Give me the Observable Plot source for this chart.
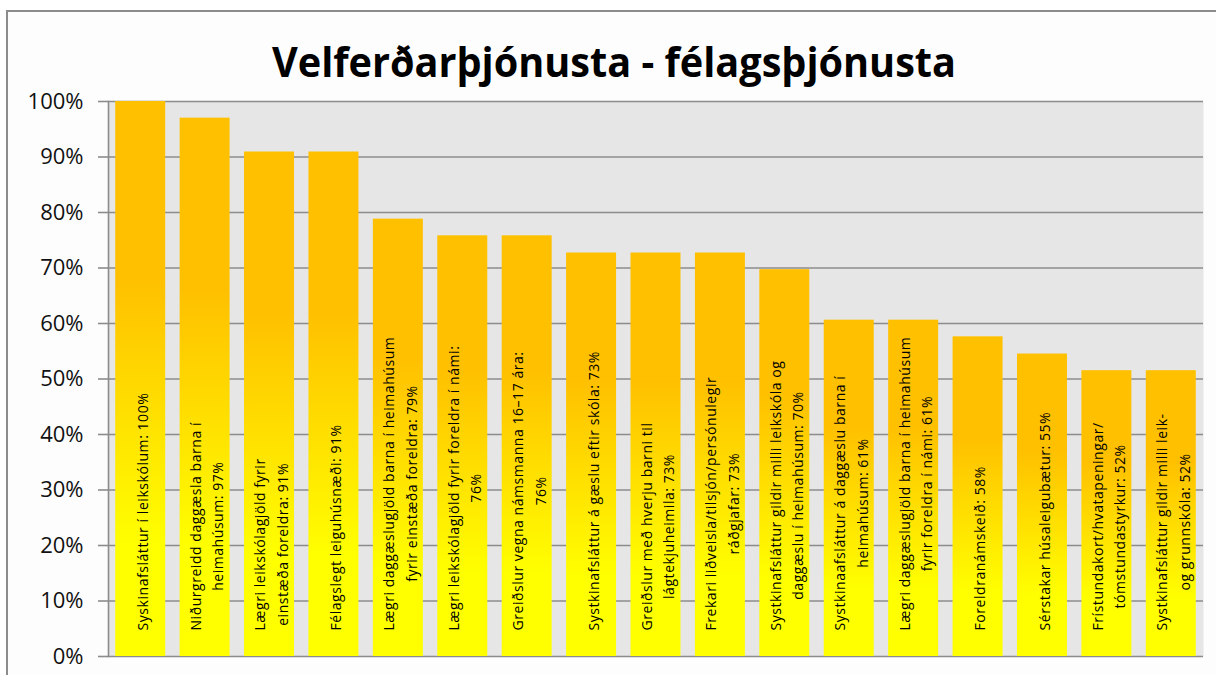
<!DOCTYPE html>
<html><head><meta charset="utf-8">
<script src="https://cdn.jsdelivr.net/npm/d3@7"></script>
<script src="https://cdn.jsdelivr.net/npm/@observablehq/plot@0.6"></script>
<style>
html,body{margin:0;padding:0;background:#fff;}
#wrap{position:relative;width:1216px;height:675px;overflow:hidden;}
#frame{position:absolute;left:6px;top:10px;width:1240px;height:720px;border:2px solid #8c8c8c;background:#fdfdfd;box-sizing:border-box;}
#chart{position:absolute;left:0;top:0;}
</style></head><body>
<div id="wrap"><div id="frame"></div><div id="chart"></div></div>
<script>
const title = "Velferðarþjónusta - félagsþjónusta";
const categories = [
  "Syskinafsláttur í leikskólum: 100%",
  "Niðurgreidd daggæsla barna í\nheimahúsum: 97%",
  "Lægri leikskólagjöld fyrir\neinstæða foreldra: 91%",
  "Félagslegt leiguhúsnæði: 91%",
  "Lægri daggæslugjöld barna í heimahúsum\nfyrir einstæða foreldra: 79%",
  "Lægri leikskólagjöld fyrir foreldra í námi:\n76%",
  "Greiðslur vegna námsmanna 16–17 ára:\n76%",
  "Systkinafsláttur á gæslu eftir skóla: 73%",
  "Greiðslur með hverju barni til\nlágtekjuheimila: 73%",
  "Frekari liðveisla/tilsjón/persónulegir\nráðgjafar: 73%",
  "Systkinafsláttur gildir milli leikskóla og\ndaggæslu í heimahúsum: 70%",
  "Systkinaafsláttur á daggæslu barna í\nheimahúsum: 61%",
  "Lægri daggæslugjöld barna í heimahúsum\nfyrir foreldra í námi: 61%",
  "Foreldranámskeið: 58%",
  "Sérstakar húsaleigubætur: 55%",
  "Frístundakort/hvatapeningar/\ntómstundastyrkur: 52%",
  "Systkinafsláttur gildir milli leik-\nog grunnskóla: 52%"
];
const values = [1.0, 0.97, 0.909, 0.909, 0.788, 0.758, 0.758, 0.727, 0.727, 0.727, 0.697, 0.606, 0.606, 0.576, 0.545, 0.515, 0.515];
const yTicks = [0, 0.1, 0.2, 0.3, 0.4, 0.5, 0.6, 0.7, 0.8, 0.9, 1.0];
const yTickLabels = ["0%", "10%", "20%", "30%", "40%", "50%", "60%", "70%", "80%", "90%", "100%"];

const data = categories.map((c, i) => ({category: c, value: values[i]}));

const gradientDefs = () => {
  const defs = d3.create("svg:defs");
  const g = defs.append("linearGradient").attr("id", "barGrad")
    .attr("x1", 0).attr("y1", 0).attr("x2", 0).attr("y2", 1);
  g.append("stop").attr("offset", "0").attr("stop-color", "#FFC000");
  g.append("stop").attr("offset", "0.32").attr("stop-color", "#FFC000");
  g.append("stop").attr("offset", "0.8").attr("stop-color", "#FFFF00");
  g.append("stop").attr("offset", "1").attr("stop-color", "#FFFF00");
  return defs.node();
};

const chart = Plot.plot({
  width: 1216, height: 675,
  marginLeft: 108, marginRight: 13, marginTop: 101, marginBottom: 19,
  style: {background: "transparent", fontFamily: "'Open Sans', sans-serif", color: "#000", overflow: "visible"},
  x: {domain: categories, axis: null, paddingInner: 0.224, paddingOuter: 0.112, round: false},
  y: {domain: [0, 1], axis: null},
  marks: [
    gradientDefs,
    Plot.frame({fill: "#e6e6e6", stroke: null}),
    Plot.ruleY(yTicks, {stroke: "#8c8c8c", strokeWidth: 1.6}),
    Plot.barY(data, {x: "category", y: "value", fill: "url(#barGrad)"}),
    Plot.axisY(yTicks, {tickSize: 10, tickPadding: 15, tickFormat: (d, i) => yTickLabels[i],
      label: null, fontSize: 22, stroke: "#8c8c8c", strokeWidth: 1.6, fill: "#111"}),
    Plot.frame({anchor: "left", stroke: "#8c8c8c", strokeWidth: 1.6}),
    Plot.text(data, {x: "category", y: () => 0, text: "category", rotate: -90,
      textAnchor: "middle", lineAnchor: "middle", dy: -26, fontSize: 14, lineHeight: 1.6, fill: "#000"})
  ]
});

document.getElementById("chart").append(chart);

// Bottom-align each rotated label block, keeping its lines centred on each other
d3.select(chart).selectAll('g[aria-label="text"] text')
  .style("letter-spacing", "0.55px")
  .each(function() {
    const b = this.getBBox();
    const t = this.getAttribute("transform") || "";
    this.setAttribute("transform", t + ` translate(${-b.x},0)`);
  });

// Title
d3.select(chart).append("text")
  .attr("x", 614).attr("y", 77)
  .attr("text-anchor", "middle")
  .attr("font-family", "'Open Sans', sans-serif")
  .attr("font-weight", "bold")
  .attr("font-size", 41)
  .attr("fill", "#000")
  .attr("textLength", 684)
  .attr("lengthAdjust", "spacingAndGlyphs")
  .text(title);
</script>
</body></html>
